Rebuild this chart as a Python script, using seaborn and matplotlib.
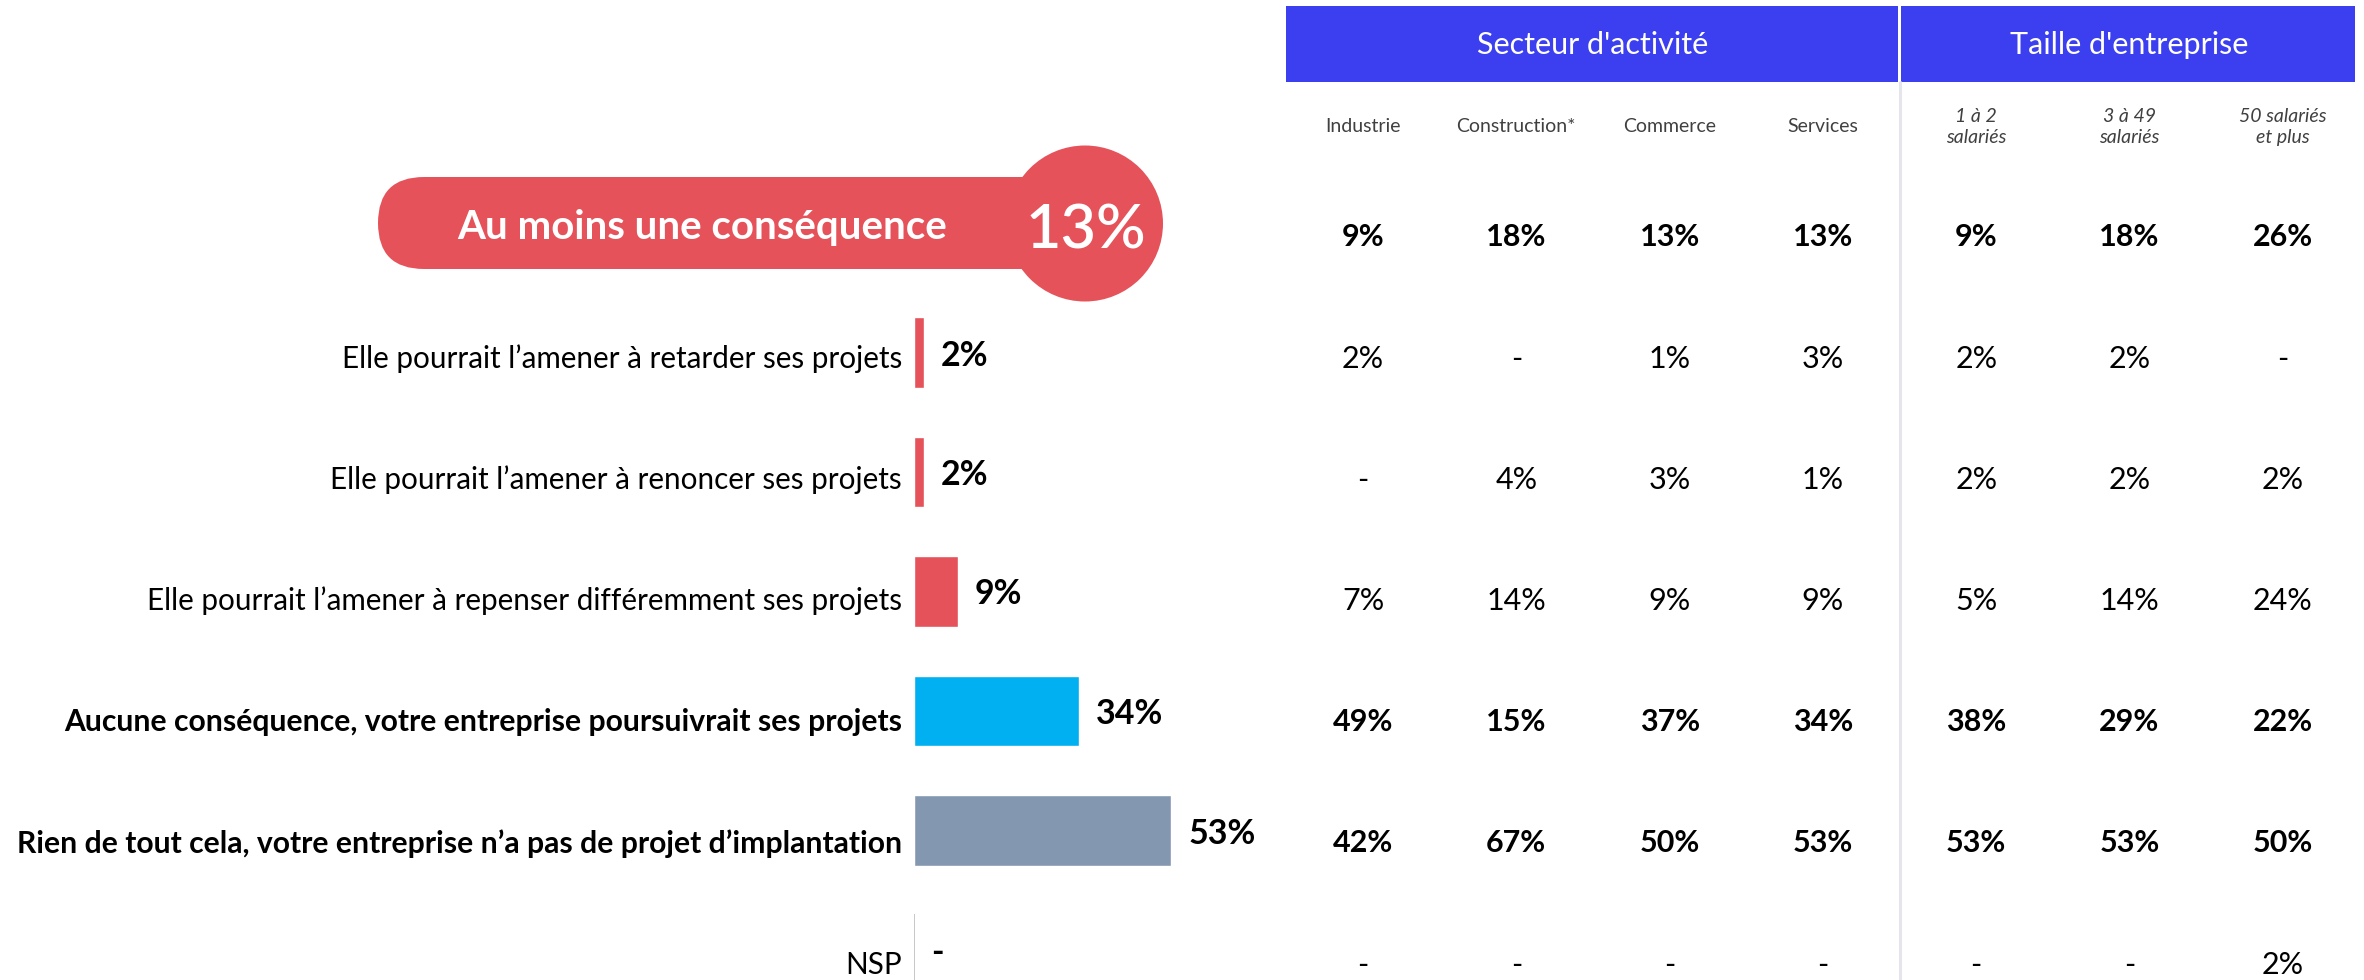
import numpy as np
import pandas as pd
import matplotlib
matplotlib.use("Agg")
import matplotlib.pyplot as plt
import seaborn as sns
from matplotlib.colors import ListedColormap
from matplotlib.patches import FancyBboxPatch, Circle, Rectangle
from matplotlib.transforms import blended_transform_factory

# ---- data ----
total_label = "Au moins une conséquence"
total_value = 13

answers = [
    "Elle pourrait l’amener à retarder ses projets",
    "Elle pourrait l’amener à renoncer ses projets",
    "Elle pourrait l’amener à repenser différemment ses projets",
    "Aucune conséquence, votre entreprise poursuivrait ses projets",
    "Rien de tout cela, votre entreprise n’a pas de projet d’implantation",
    "NSP",
]
answer_values = [2, 2, 9, 34, 53, 0]
answer_bold = [False, False, False, True, True, False]
answer_colors = ["#E6525A", "#E6525A", "#E6525A", "#00B0F0", "#8497B0", "#BFBFBF"]

groups = ["Secteur d'activité", "Taille d'entreprise"]
group_sizes = [4, 3]
columns = ["Industrie", "Construction*", "Commerce", "Services",
           "1 à 2\nsalariés", "3 à 49\nsalariés", "50 salariés\net plus"]
columns_italic = [False, False, False, False, True, True, True]

# None means "-" in the table
tab_total = [9, 18, 13, 13, 9, 18, 26]
tab_retarder = [2, None, 1, 3, 2, 2, None]
tab_renoncer = [None, 4, 3, 1, 2, 2, 2]
tab_repenser = [7, 14, 9, 9, 5, 14, 24]
tab_aucune = [49, 15, 37, 34, 38, 29, 22]
tab_rien = [42, 67, 50, 53, 53, 53, 50]
tab_nsp = [None, None, None, None, None, None, 2]

RED = "#E6525A"
BLUE_HEAD = "#3C3FEF"

sns.set_style("white")
plt.rcParams["font.family"] = ["Lato", "DejaVu Sans"]

W, H = 2364, 980
fig = plt.figure(figsize=(W / 100, H / 100), dpi=100)

# ---- bar chart (left) ----
px_per_pct = 4.85
x0 = 914
bar_ax = fig.add_axes([x0 / W, 0, 380 / W, 1])
df = pd.DataFrame({"answer": answers, "value": answer_values})
sns.barplot(data=df, x="value", y="answer", hue="answer", order=answers,
            palette=dict(zip(answers, answer_colors)), legend=False,
            width=0.594, ax=bar_ax, saturation=1)
bar_ax.set_xlim(0, 380 / px_per_pct)
row_px = 119.5
first_px = 352.5
bar_ax.set_ylim((H - first_px) / row_px, -first_px / row_px)
bar_ax.axis("off")
bar_ax.patch.set_visible(False)
for i, v in enumerate(answer_values):
    if v == 0:
        bar_ax.vlines(0, i - 0.3, i + 0.3, color=answer_colors[i], lw=1.2)
    bar_ax.annotate(f"{v}%" if v else "-", xy=(v, i), xytext=(12.5, 0),
                    textcoords="offset points", ha="left", va="center_baseline",
                    fontsize=24.5, weight="bold", color="black")

# ---- table (right) ----
table = [tab_total, tab_retarder, tab_renoncer, tab_repenser, tab_aucune, tab_rien, tab_nsp]
table_bold = [True, False, False, False, True, True, False]
vals = np.array([[0 if v is None else v for v in row] for row in table], dtype=float)
annot = np.array([["-" if v is None else f"{v}%" for v in row] for row in table])

col_w = 153.3
tab_left = 1363 - col_w / 2
cell_h = 121.2
tab_top = 235 - cell_h / 2
tab_bottom = tab_top + len(table) * cell_h
tbl_ax = fig.add_axes([tab_left / W, 1 - tab_bottom / H,
                       col_w * len(columns) / W, len(table) * cell_h / H])
sns.heatmap(vals, ax=tbl_ax, cmap=ListedColormap(["white"]), cbar=False,
            annot=annot, fmt="", annot_kws=dict(size=22, color="black"),
            xticklabels=False, yticklabels=False)
for idx, t in enumerate(tbl_ax.texts):
    r = idx // len(columns)
    t.set_fontweight("bold" if table_bold[r] else "normal")
    t.set_va("center_baseline")

# ---- overlay in pixel coordinates ----
ov = fig.add_axes([0, 0, 1, 1])
ov.set_xlim(0, W)
ov.set_ylim(H, 0)
ov.axis("off")
ov.set_zorder(5)
ov.patch.set_visible(False)

tx = blended_transform_factory(tbl_ax.transData, ov.transData)
ty = blended_transform_factory(ov.transData, tbl_ax.transData)

# group header boxes
start = 0
for g, n in zip(groups, group_sizes):
    gap_l = 0.01 if start > 0 else 0
    ov.add_patch(Rectangle((start + gap_l, 6), n - gap_l - (0.03 if start + n == len(columns) else 0.01),
                           76, transform=tx, color=BLUE_HEAD, lw=0))
    ov.text(start + n / 2, 45, g, transform=tx, ha="center", va="center",
            color="white", fontsize=22)
    start += n

# separator
ov.plot([4, 4], [82, H], transform=tx, color="#E4E6EC", lw=2.2)

# column headers
for j, (c, it) in enumerate(zip(columns, columns_italic)):
    ov.text(j + 0.5, 127, c, transform=tx, ha="center", va="center",
            fontsize=14, color="#404040",
            style="italic" if it else "normal", linespacing=1.25)

# category labels
for i, (a, b) in enumerate(zip(answers, answer_bold)):
    ov.text(902, i + 1.5, a, transform=ty, ha="right", va="center_baseline",
            fontsize=21.7 if b else 21.3, weight="bold" if b else "normal",
            color="black")

# summary pill
ov.add_patch(FancyBboxPatch((378, 177), 1085 - 378, 92,
                            boxstyle="round,pad=0,rounding_size=46",
                            color=RED, lw=0))
ov.add_patch(Circle((1085, 223.5), 78, color=RED, lw=0))
ov.text(702, 224, total_label, ha="center", va="center_baseline",
        fontsize=29, weight="bold", color="white")
ov.text(1086, 225, f"{total_value}%", ha="center", va="center_baseline",
        fontsize=44, weight="semibold", color="white")

fig.savefig("out.png", dpi=100, facecolor="white")
